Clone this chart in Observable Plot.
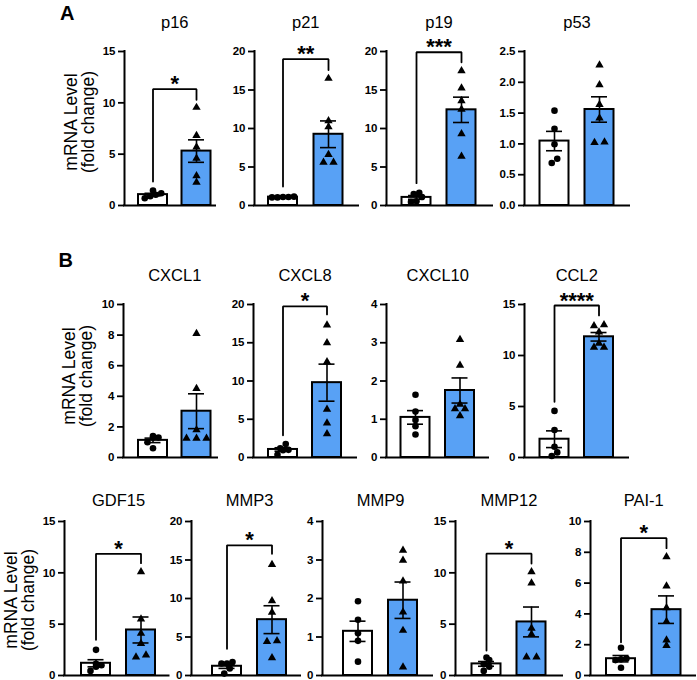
<!DOCTYPE html>
<html><head><meta charset="utf-8">
<script src="https://cdn.jsdelivr.net/npm/d3@7"></script>
<script src="https://cdn.jsdelivr.net/npm/@observablehq/plot@0.6"></script>
<style>
body{margin:0;background:#fff;}
#fig{position:relative;width:697px;height:680px;overflow:hidden;font-family:"Liberation Sans",Arial,sans-serif;color:#000;}
#fig svg{position:absolute;overflow:visible;}
.lab{position:absolute;font-size:20px;font-weight:bold;line-height:20px;}
.ylab{position:absolute;font-size:17.5px;line-height:17px;text-align:center;white-space:nowrap;transform:translate(-50%,-50%) rotate(-90deg);}
</style></head><body><div id="fig"></div>
<script>
// ---------------- data ----------------
const genes = ["p16","p21","p19","p53","CXCL1","CXCL8","CXCL10","CCL2","GDF15","MMP3","MMP9","MMP12","PAI-1"];
const controlPoints = [
  [0.7, 0.9, 1.05, 1.2, 1.45],
  [1.1, 1.05, 1.1, 1.15, 1.05],
  [1.65, 1.5, 1.1, 0.45, 0.55],
  [1.54, 1.245, 0.995, 0.76, 0.69],
  [1.3, 1.4, 1.3, 1.0, 0.6],
  [1.0, 0.95, 1.2, 1.75, 0.35],
  [1.64, 1.2, 0.98, 0.82, 0.6],
  [4.57, 2.69, 1.05, 0.5, 0.15],
  [2.5, 1.15, 1.0, 0.85, 0.45],
  [1.55, 1.75, 1.55, 0.9, 0.25],
  [1.93, 1.45, 1.1, 0.9, 0.36],
  [1.75, 1.5, 1.1, 0.85, 0.45],
  [1.8, 1.1, 1.0, 1.05, 0.5]
];
const treatedPoints = [
  [9.55, 6.8, 5.7, 4.6, 2.9, 2.25],
  [16.5, 11.0, 10.2, 6.6, 5.6, 5.6],
  [17.5, 15.25, 13.6, 12.5, 9.3, 6.4],
  [2.28, 1.96, 1.64, 1.42, 1.03, 1.02],
  [8.1, 4.5, 1.8, 1.25, 1.25, 1.25],
  [17.3, 15.0, 12.5, 6.3, 4.5, 3.1],
  [3.08, 2.41, 1.39, 1.27, 1.27, 1.09],
  [13.0, 12.9, 12.3, 11.2, 10.8, 10.8],
  [10.1, 5.5, 4.1, 3.1, 2.0, 1.8],
  [14.4, 9.7, 8.2, 4.5, 4.4, 2.3],
  [3.25, 2.99, 2.45, 1.65, 1.17, 0.22],
  [10.1, 9.0, 4.6, 4.0, 1.8, 1.8],
  [7.7, 5.8, 4.4, 3.5, 2.3, 1.95]
];
const yMax  = [15, 20, 20, 2.5, 10, 20, 4, 15, 15, 20, 4, 15, 10];
const yStep = [5, 5, 5, 0.5, 2, 5, 1, 5, 5, 5, 1, 5, 2];
const stars = ["*", "**", "***", "", "", "*", "", "****", "*", "*", "", "*", "*"];
const bracketTop      = [11.33, 19.0, 19.9, null, null, 19.75, null, 14.9, 11.85, 16.9, null, 11.87, 8.92];
const bracketLeftEnd  = [2.34, 2.47, 2.9, null, null, 2.9, null, 5.46, 3.48, 3.46, null, 2.43, 2.16];
const bracketRightEnd = [10.3, 17.6, 18.6, null, null, 18.7, null, 13.93, 10.94, 15.8, null, 10.9, 8.27];
const panelLetters = ["A", "B"];
const yLabelLines = ["mRNA Level", "(fold change)"];

// ---------------- layout (pixels) ----------------
const rows = [
  {top: 0,   frameTop: 51,  zero: 205, titleDy: -29},
  {top: 240, frameTop: 304, zero: 457, titleDy: -29},
  {top: 470, frameTop: 521, zero: 675, titleDy: -21}
];
const panels = [
  {row: 0, axisX: 124, c0: 152.5, c1: 196,   end: 215},
  {row: 0, axisX: 254, c0: 282.5, c1: 328,   end: 358},
  {row: 0, axisX: 386, c0: 416,   c1: 461,   end: 492},
  {row: 0, axisX: 524, c0: 554,   c1: 599,   end: 629},
  {row: 1, axisX: 123, c0: 152.5, c1: 196,   end: 217},
  {row: 1, axisX: 253, c0: 282.5, c1: 326.5, end: 356},
  {row: 1, axisX: 386, c0: 415,   c1: 459.5, end: 488},
  {row: 1, axisX: 524, c0: 554,   c1: 598.5, end: 628},
  {row: 2, axisX: 63.5, c0: 95,   c1: 140,   end: 168},
  {row: 2, axisX: 191, c0: 226.5, c1: 271.5, end: 300},
  {row: 2, axisX: 322, c0: 357.5, c1: 402.5, end: 432},
  {row: 2, axisX: 455, c0: 486,   c1: 531,   end: 562},
  {row: 2, axisX: 590, c0: 620.5, c1: 666,   end: 695}
];
const letterPos = [{left: 60, top: 2.5}, {left: 58.5, top: 249.5}];
const yLabelPos = [{x: 80, y: 122}, {x: 78, y: 376}, {x: 20, y: 600}];
const BLUE = "#58a1f5";
const mL = 34, mR = 6, mB = 6;
const barHalfPx = 14.5, capHalfPx = 8;

const fig = document.getElementById("fig");

function swarm(values, group, spacingPx, rowPx, pxY, pxX) {
  const sorted = values.map(v => v).sort((a, b) => a - b);
  const clusters = [];
  let cur = null;
  for (const v of sorted) {
    if (cur && (v - cur[0]) * pxY < rowPx) cur.push(v);
    else { cur = [v]; clusters.push(cur); }
  }
  const out = [];
  for (const c of clusters) c.forEach((v, j) => out.push({x: group + (j - (c.length - 1) / 2) * spacingPx / pxX, y: v}));
  return out;
}
function stats(vals, i) {
  const m = d3.mean(vals);
  const sem = d3.deviation(vals) / Math.sqrt(vals.length);
  return {i, mean: m, lo: m - sem, hi: m + sem};
}

genes.forEach((gene, g) => {
  const P = panels[g], R = rows[P.row];
  const pxX = P.c1 - P.c0;
  const pxY = (R.zero - R.frameTop) / yMax[g];
  const plotW = P.end - P.axisX;
  const width = mL + plotW + mR;
  const marginTop = R.frameTop - R.top;
  const height = (R.zero - R.top) + mB;
  const xLeft = (P.axisX - P.c0) / pxX;
  const xRight = (P.end - P.c0) / pxX;
  const hw = barHalfPx / pxX, cw = capHalfPx / pxX;
  const summary = [stats(controlPoints[g], 0), stats(treatedPoints[g], 1)];
  const dots = swarm(controlPoints[g], 0, 5.5, 6, pxY, pxX);
  const tris = swarm(treatedPoints[g], 1, 10, 3.5, pxY, pxX);
  const ticks = d3.range(0, yMax[g] + yStep[g] / 2, yStep[g]);
  const fmt = yStep[g] < 1 ? d3.format(".1f") : d3.format("d");

  const marks = [
    Plot.rect([summary[0]], {x1: d => d.i - hw, x2: d => d.i + hw, y1: () => 0, y2: "mean", fill: "white", stroke: "black", strokeWidth: 2}),
    Plot.rect([summary[1]], {x1: d => d.i - hw, x2: d => d.i + hw, y1: () => 0, y2: "mean", fill: BLUE, stroke: "black", strokeWidth: 2}),
    Plot.dot(dots, {x: "x", y: "y", r: 3.3, fill: "black", stroke: null, symbol: "circle"}),
    Plot.dot(tris, {x: "x", y: "y", r: 3.1, fill: "black", stroke: null, symbol: "triangle"}),
    Plot.ruleX(summary, {x: "i", y1: "lo", y2: "hi", stroke: "black", strokeWidth: 1.6}),
    Plot.ruleY(summary, {x1: d => d.i - cw, x2: d => d.i + cw, y: "hi", stroke: "black", strokeWidth: 1.6}),
    Plot.ruleY(summary, {x1: d => d.i - cw, x2: d => d.i + cw, y: "lo", stroke: "black", strokeWidth: 1.6}),
    Plot.ruleY([0], {x1: xLeft, x2: xRight, stroke: "black", strokeWidth: 2, strokeLinecap: "square"}),
    Plot.ruleX([xLeft], {y1: 0, y2: yMax[g], stroke: "black", strokeWidth: 2, strokeLinecap: "square"}),
    Plot.axisY(ticks, {anchor: "left", tickSize: 6, tickPadding: 3, tickFormat: fmt, fontSize: 11.5, fontWeight: "bold", strokeWidth: 1.8, label: null}),
    Plot.text([gene], {x: () => 0.5, frameAnchor: "top", dy: R.titleDy, fontSize: 16.5, fontWeight: "normal", lineAnchor: "middle"})
  ];
  if (bracketTop[g] != null) {
    marks.push(Plot.line([[0, bracketLeftEnd[g]], [0, bracketTop[g]], [1, bracketTop[g]], [1, bracketRightEnd[g]]], {stroke: "black", strokeWidth: 1.8, strokeLinejoin: "miter"}));
    marks.push(Plot.text([stars[g]], {x: () => 0.5, y: () => bracketTop[g], lineAnchor: "bottom", dy: 2, fontSize: 22, fontWeight: "bold", letterSpacing: "0.5px"}));
  }
  const svg = Plot.plot({
    width, height,
    marginLeft: mL, marginRight: mR, marginTop, marginBottom: mB,
    style: {fontFamily: "'Liberation Sans', Arial, sans-serif", background: "transparent", color: "black", fontSize: "11px", fontWeight: "bold"},
    x: {axis: null, domain: [0, 1], range: [mL + P.c0 - P.axisX, mL + P.c1 - P.axisX]},
    y: {axis: null, domain: [0, yMax[g]]},
    marks
  });
  svg.style.left = (P.axisX - mL) + "px";
  svg.style.top = R.top + "px";
  fig.appendChild(svg);
});

panelLetters.forEach((t, k) => {
  const d = document.createElement("div");
  d.className = "lab"; d.textContent = t;
  d.style.left = letterPos[k].left + "px"; d.style.top = letterPos[k].top + "px";
  fig.appendChild(d);
});
yLabelPos.forEach(p => {
  const d = document.createElement("div");
  d.className = "ylab";
  d.innerHTML = yLabelLines.join("<br>");
  d.style.left = p.x + "px"; d.style.top = p.y + "px";
  fig.appendChild(d);
});
</script></body></html>
